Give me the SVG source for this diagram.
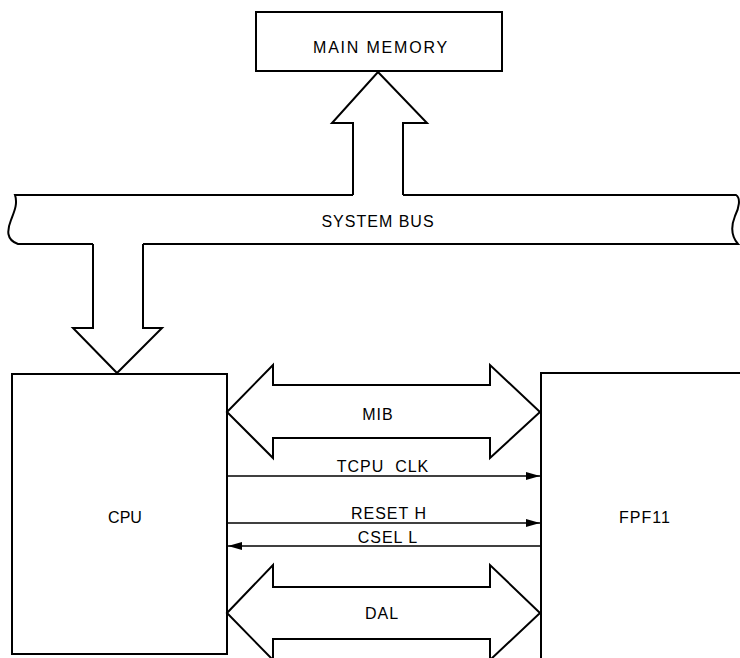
<svg xmlns="http://www.w3.org/2000/svg" width="740" height="658" viewBox="0 0 740 658">
<style>
.box{fill:#fff;stroke:#000;stroke-width:2}
.bus{fill:#fff;stroke:#000;stroke-width:2;stroke-linejoin:miter}
.sig{fill:none;stroke:#000;stroke-width:1.5}
.lbl{font-family:"Liberation Sans",Arial,Helvetica,sans-serif;font-size:16px;fill:#000;text-anchor:middle;letter-spacing:1px}
</style>
<defs>
<marker id="ah" viewBox="0 0 14 8" refX="14" refY="4" markerWidth="14" markerHeight="8" markerUnits="userSpaceOnUse" orient="auto">
<path d="M0,0 L14,4 L0,8 Z" fill="#000"/>
</marker>
</defs>
<rect width="740" height="658" fill="#fff"/>

<g id="main-memory">
<rect class="box" x="256" y="12" width="246" height="59"/>
<text class="lbl" x="381" y="53" style="letter-spacing:1.8px">MAIN MEMORY</text>
</g>

<g id="system-bus">
<path class="bus" d="M353,195 L15,195 C18,204 14,212 11,220 C7,230 6,240 18,244 L93,244 M143,244 L738,244 C731,236 731,226 735,216 C739,208 741,198 736,195 L403,195"/>
<text class="lbl" x="378" y="227">SYSTEM BUS</text>
</g>

<g id="cpu">
<rect class="box" x="12" y="374" width="215" height="280"/>
<text class="lbl" x="125" y="523" style="letter-spacing:0px">CPU</text>
</g>

<g id="fpf11">
<rect class="box" x="541" y="373" width="220" height="300"/>
<text class="lbl" x="645" y="523">FPF11</text>
</g>

<g id="connectors">
<polyline class="bus" points="353,195 353,123 332,123 378,72 427,123 403,123 403,195"/>
<polyline class="bus" points="93,244 93,328 73,328 117,373 162,328 143,328 143,244"/>
<polygon class="bus" points="227,412 273,365 273,385 490,385 490,365 540,412 490,458 490,438 273,438 273,458"/>
<polygon class="bus" points="227,613 273,565 273,587 490,587 490,565 540,613 490,660 490,639 273,639 273,660"/>
<line class="sig" x1="227" y1="476" x2="540" y2="476" marker-end="url(#ah)"/>
<line class="sig" x1="227" y1="523" x2="540" y2="523" marker-end="url(#ah)"/>
<line class="sig" x1="540" y1="546" x2="228" y2="546" marker-end="url(#ah)"/>
</g>

<g id="labels">
<text class="lbl" x="378" y="420">MIB</text>
<text class="lbl" x="383" y="472" xml:space="preserve">TCPU  CLK</text>
<text class="lbl" x="389" y="519">RESET H</text>
<text class="lbl" x="388" y="543">CSEL L</text>
<text class="lbl" x="382" y="619">DAL</text>
</g>
</svg>
